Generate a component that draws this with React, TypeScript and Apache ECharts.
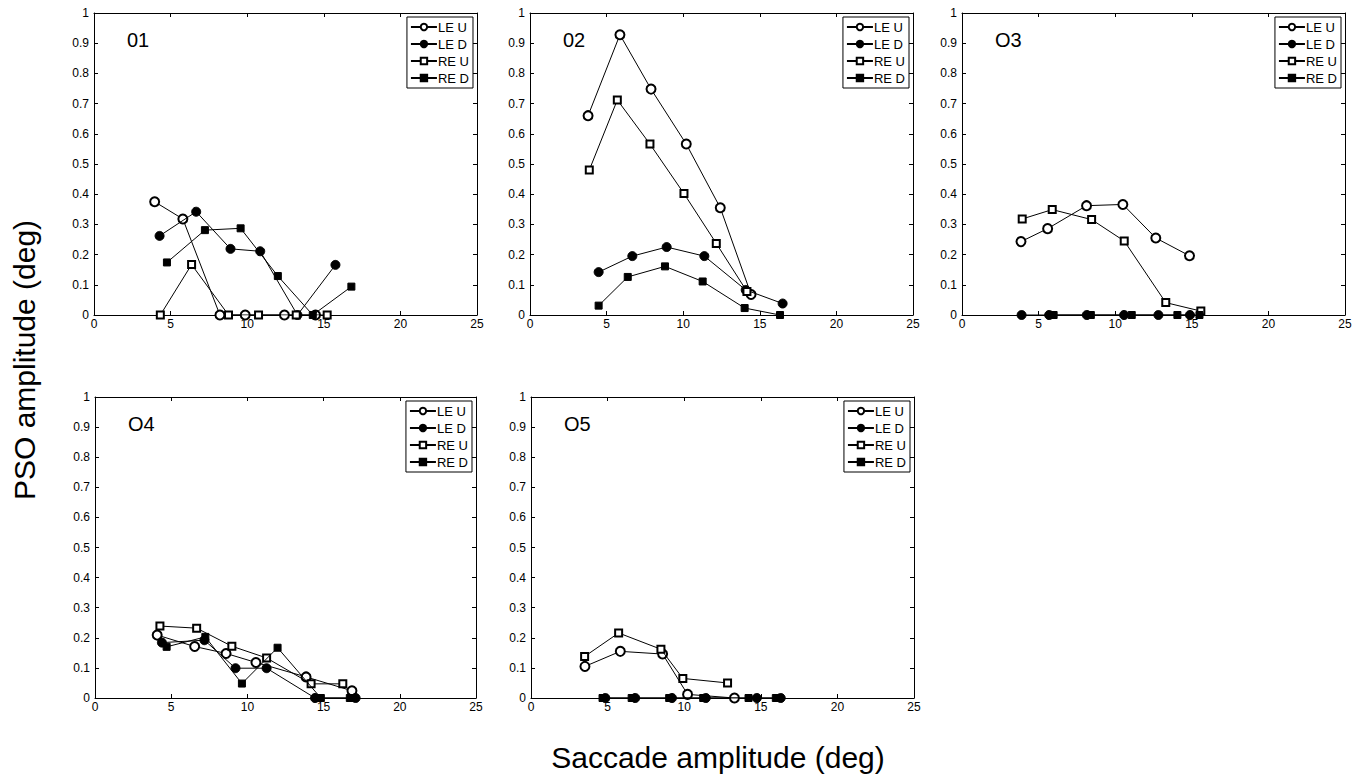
import React, { useEffect, useRef } from "react";
import * as echarts from "echarts";

// ---- data: [saccade amplitude (deg), PSO amplitude (deg)] ----
const PANEL_LABELS = ["01", "02", "O3", "O4", "O5"];
const SERIES_NAMES = ["LE U", "LE D", "RE U", "RE D"];
const X_TICKS = [0, 5, 10, 15, 20, 25];

const P1_LE_U = [[3.96, 0.375], [5.8, 0.318], [8.22, 0], [9.87, 0], [12.43, 0], [14.46, 0]];
const P1_LE_D = [[4.28, 0.262], [6.67, 0.342], [8.91, 0.219], [10.85, 0.211], [13.28, 0], [15.76, 0.166]];
const P1_RE_U = [[4.33, 0], [6.37, 0.167], [8.78, 0], [10.74, 0], [13.2, 0], [15.22, 0]];
const P1_RE_D = [[4.76, 0.174], [7.24, 0.281], [9.57, 0.287], [12.0, 0.129], [14.28, 0], [16.8, 0.094]];

const P2_LE_U = [[3.79, 0.66], [5.87, 0.928], [7.9, 0.748], [10.2, 0.566], [12.42, 0.355], [14.43, 0.068]];
const P2_LE_D = [[4.48, 0.142], [6.68, 0.195], [8.92, 0.225], [11.38, 0.195], [14.08, 0.083], [16.49, 0.038]];
const P2_RE_U = [[3.87, 0.48], [5.7, 0.712], [7.83, 0.566], [10.05, 0.402], [12.16, 0.237], [14.16, 0.078]];
const P2_RE_D = [[4.48, 0.031], [6.38, 0.126], [8.81, 0.161], [11.27, 0.111], [14.01, 0.023], [16.32, 0]];

const P3_LE_U = [[3.85, 0.243], [5.59, 0.286], [8.13, 0.362], [10.5, 0.366], [12.65, 0.255], [14.85, 0.196]];
const P3_LE_D = [[3.89, 0], [5.69, 0], [8.15, 0], [10.58, 0], [12.82, 0], [14.88, 0]];
const P3_RE_U = [[3.93, 0.318], [5.89, 0.349], [8.46, 0.316], [10.59, 0.245], [13.3, 0.041], [15.59, 0.013]];
const P3_RE_D = [[5.98, 0], [8.41, 0], [11.08, 0], [14.06, 0], [15.5, 0]];

const P4_LE_U = [[4.08, 0.209], [6.54, 0.171], [8.6, 0.148], [10.56, 0.118], [13.85, 0.07], [16.86, 0.024]];
const P4_LE_D = [[4.39, 0.184], [7.18, 0.192], [9.22, 0.099], [11.26, 0.099], [14.44, 0], [17.1, 0]];
const P4_RE_U = [[4.26, 0.239], [6.67, 0.232], [8.98, 0.172], [11.26, 0.133], [14.18, 0.047], [16.26, 0.047]];
const P4_RE_D = [[4.7, 0.17], [7.24, 0.203], [9.64, 0.048], [11.98, 0.167], [14.82, 0], [16.72, 0]];

const P5_LE_U = [[3.52, 0.105], [5.83, 0.155], [8.59, 0.146], [10.22, 0.012], [13.28, 0]];
const P5_LE_D = [[4.85, 0], [6.8, 0], [9.2, 0], [11.41, 0], [14.74, 0], [16.3, 0]];
const P5_RE_U = [[3.5, 0.138], [5.72, 0.216], [8.48, 0.162], [9.91, 0.065], [12.83, 0.05]];
const P5_RE_D = [[4.67, 0], [6.57, 0], [9.02, 0], [11.24, 0], [14.2, 0], [15.98, 0]];

const PANEL_DATA = [
  [P1_LE_U, P1_LE_D, P1_RE_U, P1_RE_D],
  [P2_LE_U, P2_LE_D, P2_RE_U, P2_RE_D],
  [P3_LE_U, P3_LE_D, P3_RE_U, P3_RE_D],
  [P4_LE_U, P4_LE_D, P4_RE_U, P4_RE_D],
  [P5_LE_U, P5_LE_D, P5_RE_U, P5_RE_D],
];

// ---- layout ----
const W = 1363;
const H = 780;
const FONT = "'Liberation Sans', Arial, Helvetica, sans-serif";
const GRIDS = [
  { left: 94, top: 13, width: 383, height: 302 },
  { left: 530, top: 13, width: 383, height: 302 },
  { left: 962, top: 13, width: 383, height: 302 },
  { left: 95, top: 397, width: 381, height: 301 },
  { left: 531, top: 397, width: 383, height: 301 },
];
const SYMBOLS = ["emptyCircle", "circle", "emptyRect", "rect"];
const SYMBOL_SIZES = [9, 9, 7, 7];

function buildOption() {
  const grid: any[] = [];
  const xAxis: any[] = [];
  const yAxis: any[] = [];
  const series: any[] = [];
  const legend: any[] = [];
  const graphic: any[] = [];

  const axisLine = { show: true, onZero: false, lineStyle: { color: "#000", width: 1 } };
  const axisTick = { show: true, inside: true, length: 4, lineStyle: { color: "#000", width: 1 } };

  GRIDS.forEach((g, i) => {
    grid.push({ ...g, containLabel: false });
    xAxis.push({
      gridIndex: i, type: "value", min: X_TICKS[0], max: X_TICKS[X_TICKS.length - 1], interval: 5,
      position: "bottom", axisLine, axisTick, splitLine: { show: false },
      axisLabel: { color: "#000", fontSize: 12, fontFamily: FONT, margin: 3 },
    });
    xAxis.push({
      gridIndex: i, type: "value", min: 0, max: 25, interval: 5,
      position: "top", axisLine, axisTick, splitLine: { show: false },
      axisLabel: { show: false },
    });
    yAxis.push({
      gridIndex: i, type: "value", min: 0, max: 1, interval: 0.1,
      position: "left", axisLine, axisTick, splitLine: { show: false },
      axisLabel: {
        color: "#000", fontSize: 12, fontFamily: FONT, margin: 5,
        formatter: (v: number) => String(Math.round(v * 10) / 10),
      },
    });
    yAxis.push({
      gridIndex: i, type: "value", min: 0, max: 1, interval: 0.1,
      position: "right", axisLine, axisTick, splitLine: { show: false },
      axisLabel: { show: false },
    });

    PANEL_DATA[i].forEach((data, s) => {
      series.push({
        name: SERIES_NAMES[s],
        type: "line",
        xAxisIndex: i * 2,
        yAxisIndex: i * 2,
        data,
        symbol: SYMBOLS[s],
        symbolSize: SYMBOL_SIZES[s],
        showAllSymbol: true,
        lineStyle: { color: "#000", width: 1 },
        itemStyle: { color: "#000", borderColor: "#000", borderWidth: 1 },
        emphasis: { disabled: true },
        z: 3 + s,
      });
    });

    legend.push({
      data: SERIES_NAMES,
      orient: "vertical",
      right: W - (g.left + g.width) + 4,
      top: g.top + 4,
      itemWidth: 26,
      itemHeight: 8,
      itemGap: 3,
      padding: [3, 4, 3, 3],
      borderColor: "#000",
      borderWidth: 1,
      borderRadius: 0,
      backgroundColor: "#fff",
      selectedMode: false,
      textStyle: { color: "#000", fontSize: 13, fontFamily: FONT, padding: [0, 0, 0, -4], lineHeight: 14 },
    });

    graphic.push({
      type: "text",
      x: g.left + 33,
      y: g.top + 27,
      style: {
        text: PANEL_LABELS[i],
        fill: "#000",
        fontSize: 20,
        fontFamily: FONT,
        textVerticalAlign: "middle",
        verticalAlign: "middle",
      },
    });
  });

  graphic.push({
    type: "text",
    x: 24,
    y: 360,
    rotation: Math.PI / 2,
    style: {
      text: "PSO amplitude (deg)",
      fill: "#000",
      fontSize: 30,
      fontFamily: FONT,
      textAlign: "center",
      align: "center",
      textVerticalAlign: "middle",
      verticalAlign: "middle",
    },
  });
  graphic.push({
    type: "text",
    x: 718,
    y: 757,
    style: {
      text: "Saccade amplitude (deg)",
      fill: "#000",
      fontSize: 30,
      fontFamily: FONT,
      textAlign: "center",
      align: "center",
      textVerticalAlign: "middle",
      verticalAlign: "middle",
    },
  });

  return {
    animation: false,
    backgroundColor: "#fff",
    grid,
    xAxis,
    yAxis,
    series,
    legend,
    graphic,
  };
}

export default function App() {
  const ref = useRef<HTMLDivElement>(null);
  useEffect(() => {
    if (!ref.current) return;
    const chart = echarts.init(ref.current, undefined, { renderer: "svg" });
    chart.setOption(buildOption());
    return () => chart.dispose();
  }, []);
  return (
    <div
      ref={ref}
      style={{ position: "fixed", left: 0, top: 0, width: W, height: H, background: "#fff" }}
    />
  );
}
